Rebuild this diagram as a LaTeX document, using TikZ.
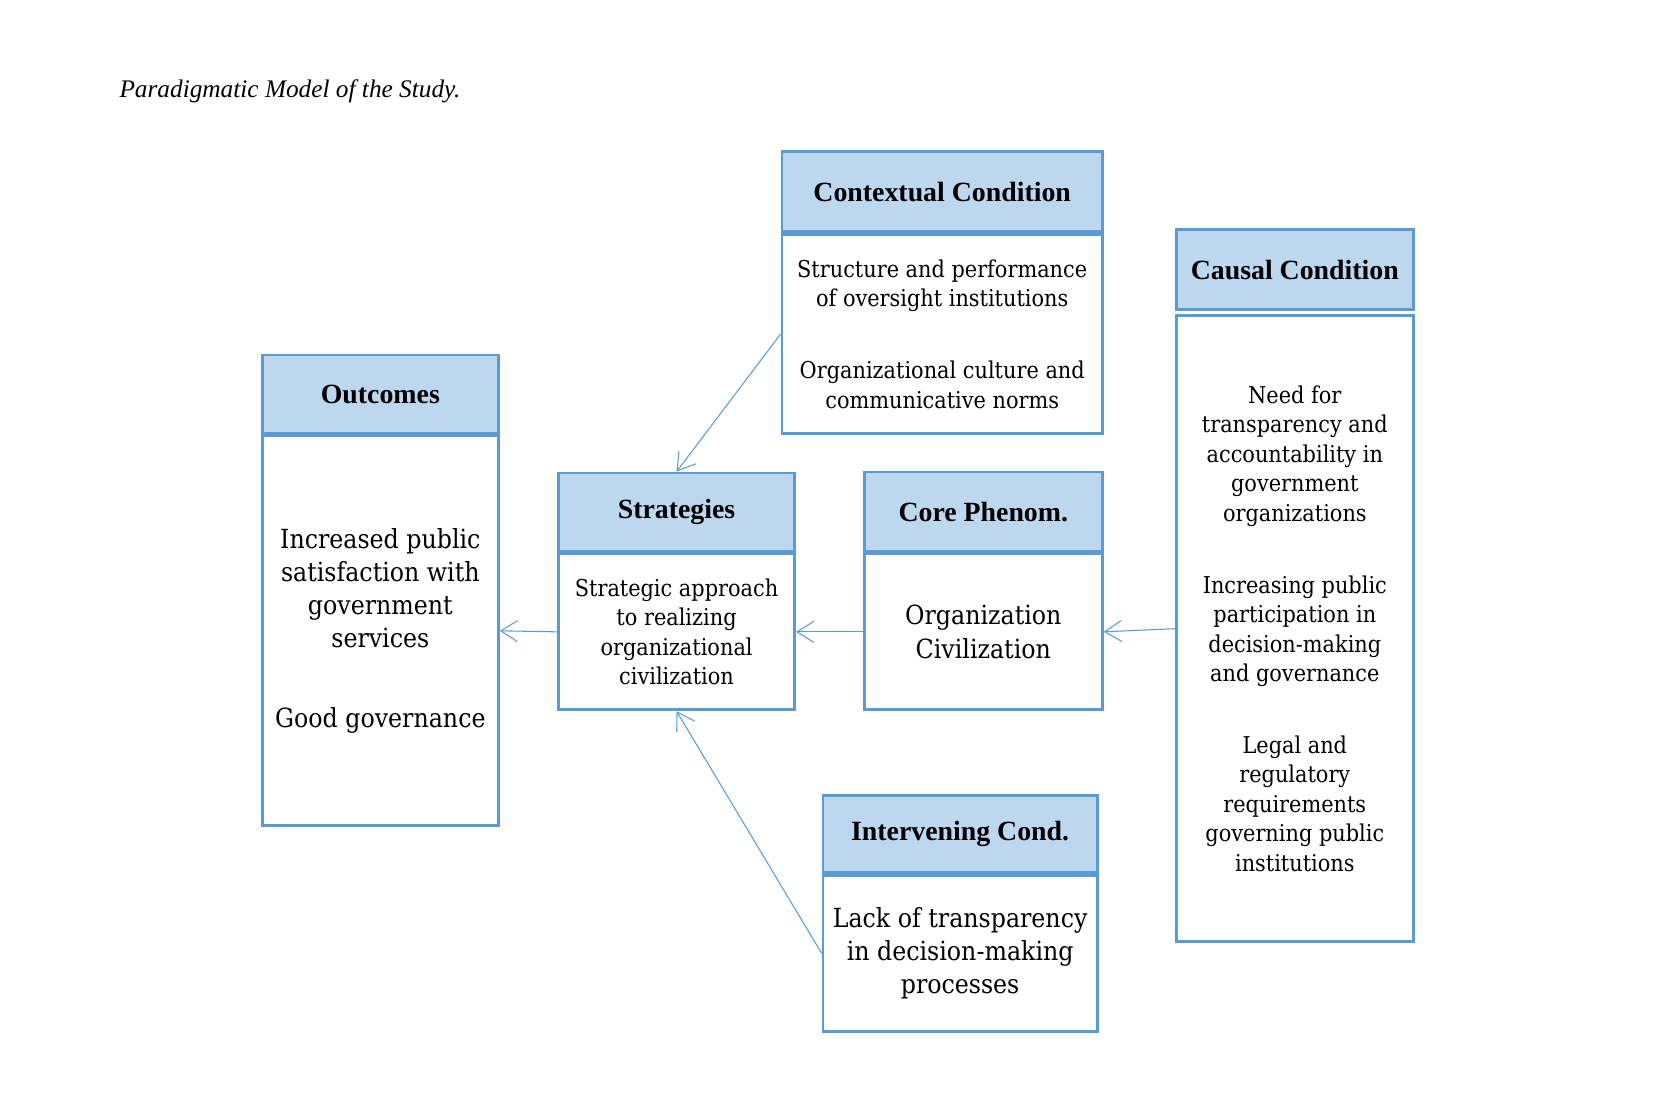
\documentclass[tikz,border=0pt]{standalone}
\usepackage{fontspec}
\setmainfont{Liberation Serif}
\newfontfamily\bodyfont{DejaVu Serif Condensed}
\usetikzlibrary{positioning,arrows.meta}
\definecolor{boxline}{RGB}{91,155,213}
\definecolor{boxfill}{RGB}{189,215,238}

\begin{document}
\begin{tikzpicture}[x=0.5pt,y=-0.5pt,
    head/.style={draw=boxline, fill=boxfill, line width=1.3pt, inner sep=0pt,
        font=\bfseries\fontsize{13.2}{15}\selectfont},
    body/.style={draw=boxline, line width=1.3pt, inner sep=0pt, align=center,
        font=\bodyfont\fontsize{11}{14}\selectfont},
    big/.style={body, font=\bodyfont\fontsize{12.5}{15.75}\selectfont},
    link/.style={draw=boxline, line width=0.5pt, -{Straight Barb[length=8pt,width=10pt]}}]
    \useasboundingbox (0,0) rectangle (1570,1048);
    \node[anchor=west, inner sep=0pt, font=\itshape\fontsize{12}{14}\selectfont] (title) at (113,87)
        {Paradigmatic Model of the Study.};

    % contextual
    \node[head, anchor=north west, minimum width=152pt, minimum height=38pt] (ctxh) at (740.5,142.5)
        {Contextual Condition};
    \node[body, minimum width=152pt, minimum height=94.5pt, below=0pt of ctxh] (ctx)
        {Structure and performance\\of oversight institutions\\[20pt]
         Organizational culture and\\communicative norms};
    % causal
    \node[head, anchor=north west, minimum width=112.5pt, minimum height=38pt] (cauh) at (1114.5,216.5)
        {Causal Condition};
    \node[body, minimum width=112.5pt, minimum height=297pt, below=1.5pt of cauh] (cau)
        {Need for\\transparency and\\accountability in\\government\\organizations\\[20pt]
         Increasing public\\participation in\\decision-making\\and governance\\[20pt]
         Legal and\\regulatory\\requirements\\governing public\\institutions};
    % outcomes
    \node[head, anchor=north west, minimum width=112pt, minimum height=37pt] (outh) at (247.5,335.5)
        {Outcomes};
    \node[big, minimum width=112pt, minimum height=185pt, below=0pt of outh] (out)
        {Increased public\\satisfaction with\\government\\services\\[22pt]
         Good governance};
    % strategies
    \node[head, anchor=north west, minimum width=112pt, minimum height=37pt] (strh) at (528.5,447.5)
        {Strategies};
    \node[body, minimum width=112pt, minimum height=74pt, below=0pt of strh] (str)
        {Strategic approach\\to realizing\\organizational\\civilization};
    % core
    \node[head, anchor=north west, minimum width=113pt, minimum height=37.5pt] (coreh) at (818.5,446.5)
        {Core Phenom.};
    \node[big, minimum width=113pt, minimum height=74pt, below=0pt of coreh] (core)
        {Organization\\Civilization};
    % intervening
    \node[head, anchor=north west, minimum width=130pt, minimum height=36.5pt] (inth) at (779.5,753.5)
        {Intervening Cond.};
    \node[big, minimum width=130pt, minimum height=74pt, below=0pt of inth] (int)
        {Lack of transparency\\in decision-making\\processes};

    \draw[link] (ctx.west) -- (strh.north);
    \draw[link] (int.west) -- (str.south);
    \draw[link] (cau.west) -- (core.east);
    \draw[link] (core.west) -- (str.east);
    \draw[link] (str.west) -- (out.east);
\end{tikzpicture}
\end{document}
